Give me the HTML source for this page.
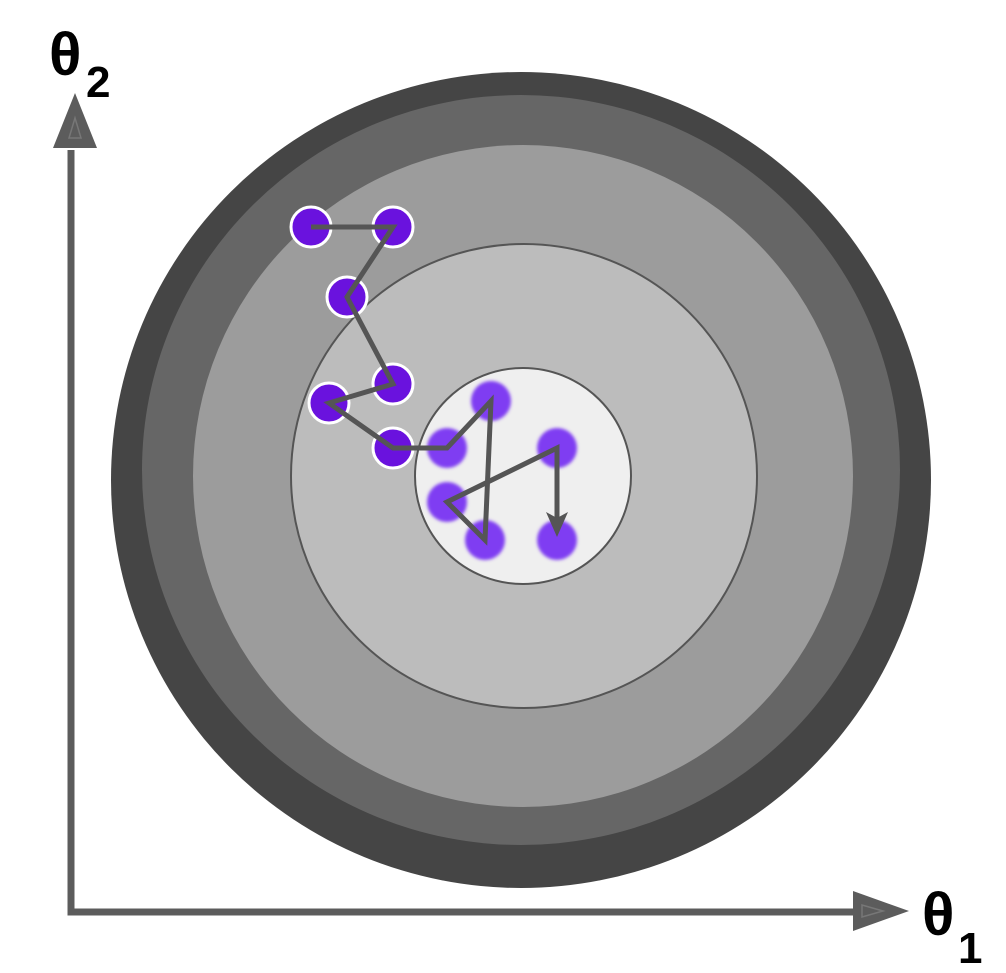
<!DOCTYPE html>
<html><head><meta charset="utf-8"><style>
html,body{margin:0;padding:0;background:#fff;}
svg{display:block;}
</style></head><body>
<svg width="1006" height="973" viewBox="0 0 1006 973" xmlns="http://www.w3.org/2000/svg">
<defs>
<filter id="bl" x="-50%" y="-50%" width="200%" height="200%"><feGaussianBlur stdDeviation="1.5"/></filter>
</defs>
<ellipse cx="521" cy="480" rx="410" ry="408" fill="#454545"/>
<ellipse cx="521" cy="470" rx="379" ry="375" fill="#666666"/>
<ellipse cx="523" cy="476" rx="330" ry="331" fill="#9c9c9c"/>
<ellipse cx="524" cy="476" rx="233" ry="232" fill="#bcbcbc" stroke="#555" stroke-width="2"/>
<circle cx="523" cy="476" r="108" fill="#efefef" stroke="#555" stroke-width="2"/>
<g fill="#6a12de" stroke="#fff" stroke-width="3">
<circle cx="311" cy="227" r="20"/>
<circle cx="393" cy="227" r="20"/>
<circle cx="347" cy="297" r="20"/>
<circle cx="329" cy="403" r="20"/>
<circle cx="393" cy="384" r="20"/>
<circle cx="393" cy="448" r="20"/>
</g>
<g fill="#7f3ef2" filter="url(#bl)">
<circle cx="447" cy="448" r="20"/>
<circle cx="491" cy="401" r="20"/>
<circle cx="557" cy="448" r="20"/>
<circle cx="447" cy="502" r="20"/>
<circle cx="485" cy="540" r="20"/>
<circle cx="557" cy="540" r="20"/>
</g>
<polyline points="311,227 393,227 347,297 393,384 329,403 393,448 447,448 491,401 485,540 447,502 557,448 557,518" fill="none" stroke="#555" stroke-width="5" stroke-linejoin="miter"/>
<polygon points="557,537 546,512 557,518 568,512" fill="#555"/>
<!-- axes -->
<polyline points="71,150 71,912 855,912" fill="none" stroke="#5c5c5c" stroke-width="7"/>
<polygon points="75,93 53,148 97,148" fill="#5c5c5c"/>
<polygon points="75,118 69,138 81,138" fill="none" stroke="#777" stroke-width="1.5"/>
<polygon points="909,911 853,891 853,931" fill="#5c5c5c"/>
<polygon points="883,911 862,905 862,917" fill="none" stroke="#777" stroke-width="1.5"/>
<text x="49" y="75" font-family="Liberation Sans, DejaVu Sans, sans-serif" font-weight="bold" font-size="60" fill="#000">θ</text>
<text x="86" y="97" font-family="Liberation Sans, DejaVu Sans, sans-serif" font-weight="bold" font-size="44" fill="#000">2</text>
<text x="922" y="935" font-family="Liberation Sans, DejaVu Sans, sans-serif" font-weight="bold" font-size="60" fill="#000">θ</text>
<text x="958" y="963" font-family="Liberation Sans, DejaVu Sans, sans-serif" font-weight="bold" font-size="44" fill="#000">1</text>
</svg>
</body></html>
